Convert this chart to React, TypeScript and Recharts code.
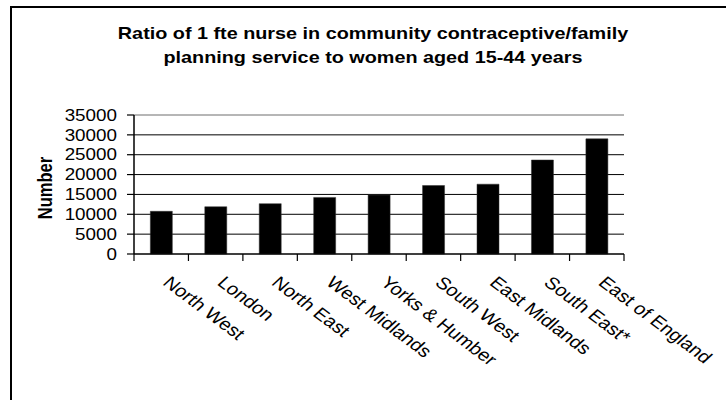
import React from "react";
import { BarChart, Bar, XAxis, YAxis, CartesianGrid, ReferenceLine } from "recharts";

const regions = [
  "North West",
  "London",
  "North East",
  "West Midlands",
  "Yorks & Humber",
  "South West",
  "East Midlands",
  "South East*",
  "East of England",
];
const ratios = [10750, 11900, 12670, 14250, 14830, 17250, 17580, 23670, 29000];
const yTicks = [0, 5000, 10000, 15000, 20000, 25000, 30000, 35000];
const titleLines = [
  "Ratio of 1 fte nurse in community contraceptive/family",
  "planning service to women aged 15-44 years",
];
const yLabel = "Number";

const data = regions.map((r, i) => ({ region: r, value: ratios[i] }));

const FONT = "'Liberation Sans', Arial, sans-serif";
const SX = 1.2;

const YTick = (props: any) => {
  const { x, y, payload } = props;
  return (
    <g transform={`translate(${x},${y}) scale(${SX},1)`}>
      <text x={0} y={0} dy="0.36em" textAnchor="end" fontFamily={FONT} fontSize={15.7} fill="#000">
        {payload.value}
      </text>
    </g>
  );
};

const XTick = (props: any) => {
  const { x, y, payload, index, width } = props;
  const half = payload && payload.offset ? payload.offset : width / regions.length / 2;
  const last = index === regions.length - 1;
  return (
    <g>
      <line x1={x - half} x2={x - half} y1={y} y2={y + 7} stroke="#000" strokeWidth={1.2} />
      {last && <line x1={x + half} x2={x + half} y1={y} y2={y + 7} stroke="#000" strokeWidth={1.2} />}
      <g transform={`translate(${x + 0.5},${y + 30}) scale(${SX},1) rotate(42)`}>
        <text x={0} y={0} textAnchor="start" fontFamily={FONT} fontSize={17} fill="#000">
          {payload.value}
        </text>
      </g>
    </g>
  );
};

export default function App() {
  return (
    <div
      style={{
        position: "absolute",
        left: 0,
        top: 0,
        width: 726,
        height: 400,
        overflow: "hidden",
        background: "#fff",
      }}
    >
      <div
        style={{
          position: "absolute",
          left: 10,
          top: 6,
          width: 800,
          height: 500,
          border: "2px solid #000",
          boxSizing: "border-box",
        }}
      />
      <div style={{ position: "absolute", left: 0, top: 0 }}>
        <BarChart
          width={726}
          height={400}
          data={data}
          margin={{ top: 115, right: 102, bottom: 26, left: 74 }}
          barCategoryGap="30%"
        >
          <CartesianGrid horizontal vertical={false} stroke="#000" strokeWidth={1} />
          <ReferenceLine y={35000} stroke="#c8c8c8" strokeWidth={1.5} />
          <XAxis
            dataKey="region"
            interval={0}
            height={120}
            tickLine={false}
            tickSize={0}
            tickMargin={0}
            axisLine={{ stroke: "#000", strokeWidth: 1.2 }}
            tick={<XTick />}
          />
          <YAxis
            width={60}
            domain={[0, 35000]}
            ticks={yTicks}
            interval={0}
            tickSize={7}
            tickMargin={10}
            tickLine={{ stroke: "#000", strokeWidth: 1.2 }}
            axisLine={{ stroke: "#000", strokeWidth: 1.5 }}
            tick={<YTick />}
          />
          <Bar dataKey="value" fill="#000" stroke="#333" strokeWidth={0.5} isAnimationActive={false} />
        </BarChart>
      </div>
      <svg
        width={726}
        height={400}
        style={{ position: "absolute", left: 0, top: 0, pointerEvents: "none" }}
      >
        {titleLines.map((t, i) => (
          <g key={i} transform={`translate(373,${39 + i * 24.3}) scale(${SX},1)`}>
            <text textAnchor="middle" fontFamily={FONT} fontWeight="bold" fontSize={16.5} fill="#000">
              {t}
            </text>
          </g>
        ))}
        <g transform={`translate(51.5,188) scale(${SX},1) rotate(-90)`}>
          <text textAnchor="middle" fontFamily={FONT} fontWeight="bold" fontSize={16.5} fill="#000">
            {yLabel}
          </text>
        </g>
      </svg>
    </div>
  );
}
